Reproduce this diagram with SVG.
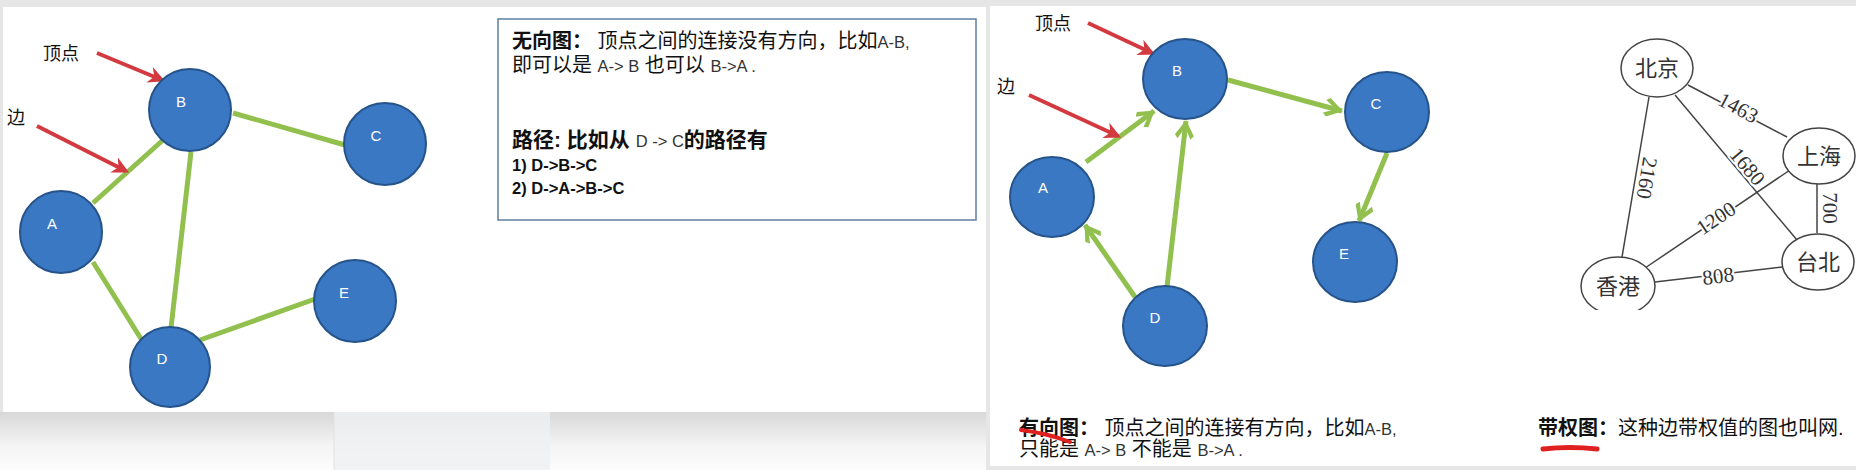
<svg xmlns="http://www.w3.org/2000/svg" width="1856" height="470" viewBox="0 0 1856 470">
<style>
.nd{fill:#3b78c3;stroke:#25538a;stroke-width:2}
.nl{fill:#ffffff;font-family:"Liberation Sans",Arial,sans-serif;font-size:15px;text-anchor:middle}
.ge{stroke:#92c04f;stroke-width:5;fill:none}
.re{stroke:#d23a3f;stroke-width:4;fill:none}
.cj{font-family:"Liberation Sans","Noto Sans CJK SC",sans-serif;fill:#111}
.t19{font-size:20px}
.lat{font-family:"Liberation Sans",Arial,sans-serif;font-size:16.5px;fill:#333}
.b{font-weight:bold}
.wn{fill:#fff;stroke:#444;stroke-width:1.5}
.wl{font-family:"Noto Sans CJK SC",sans-serif;font-size:22px;fill:#333;text-anchor:middle}
.we{stroke:#444;stroke-width:1.5}
.wt{font-family:"Liberation Serif","Times New Roman",serif;font-size:21px;fill:#333;text-anchor:middle;stroke:#fff;stroke-width:4;paint-order:stroke;stroke-linejoin:round}
</style>
<defs>
<marker id="rh" viewBox="0 0 10 10" refX="8" refY="5" markerWidth="4.2" markerHeight="4.2" orient="auto" markerUnits="strokeWidth"><path d="M0,0 L10,5 L0,10 L3,5 z" fill="#d23a3f"/></marker>
<marker id="gh" viewBox="0 0 10 10" refX="9.5" refY="5" markerWidth="3.8" markerHeight="3.8" orient="auto" markerUnits="strokeWidth"><path d="M0,1.6 L2,0 L10,5 L2,10 L0,8.4 L6.2,5 z" fill="#92c04f"/></marker>
<linearGradient id="sh" x1="0" y1="0" x2="0" y2="1"><stop offset="0" stop-color="#d8d8d8"/><stop offset="0.6" stop-color="#f5f5f5"/><stop offset="1" stop-color="#fcfcfc"/></linearGradient>
<clipPath id="wc"><rect x="1560" y="20" width="296" height="290"/></clipPath>
</defs>
<!-- background -->
<rect x="0" y="0" width="1856" height="470" fill="#e6e6e6"/>
<rect x="0" y="412" width="986" height="58" fill="url(#sh)"/>
<rect x="334" y="412" width="216" height="58" fill="#eef0f3" opacity="0.8"/>
<line x1="334" y1="412" x2="334" y2="470" stroke="#e2e2e2"/>
<rect x="3" y="7" width="983" height="405" fill="#ffffff"/>
<rect x="990" y="6" width="866" height="460" fill="#ffffff"/>

<g id="connectors">
<!-- undirected -->
<line class="ge" x1="233" y1="113" x2="345" y2="145"/>
<line class="ge" x1="93" y1="203" x2="163" y2="140"/>
<line class="ge" x1="191" y1="152" x2="171" y2="328"/>
<line class="ge" x1="93" y1="262" x2="143" y2="342"/>
<line class="ge" x1="200" y1="340" x2="315" y2="299"/>
<line class="re" x1="97" y1="53" x2="162" y2="80" marker-end="url(#rh)"/>
<line class="re" x1="37" y1="126" x2="126" y2="171" marker-end="url(#rh)"/>
<!-- directed -->
<line class="ge" x1="1086" y1="162" x2="1154" y2="111" marker-end="url(#gh)"/>
<line class="ge" x1="1167" y1="287" x2="1186" y2="121" marker-end="url(#gh)"/>
<line class="ge" x1="1135" y1="297" x2="1085" y2="225" marker-end="url(#gh)"/>
<line class="ge" x1="1228" y1="80" x2="1342" y2="111" marker-end="url(#gh)"/>
<line class="ge" x1="1387" y1="153" x2="1359" y2="221" marker-end="url(#gh)"/>
<line class="re" x1="1088" y1="23" x2="1152" y2="53" marker-end="url(#rh)"/>
<line class="re" x1="1029" y1="95" x2="1118" y2="136" marker-end="url(#rh)"/>
<!-- weighted -->
<g clip-path="url(#wc)">
<line class="we" x1="1688" y1="85" x2="1787" y2="137"/>
<line class="we" x1="1675" y1="95" x2="1797" y2="240"/>
<line class="we" x1="1649" y1="97" x2="1622" y2="257"/>
<line class="we" x1="1817" y1="182" x2="1817" y2="233"/>
<line class="we" x1="1790" y1="170" x2="1645" y2="268"/>
<line class="we" x1="1655" y1="282" x2="1783" y2="267"/>
<text class="wt" transform="translate(1735,114) rotate(27.7)">1463</text>
<text class="wt" transform="translate(1742,171) rotate(50)">1680</text>
<text class="wt" transform="translate(1640,177) rotate(99.6)">2160</text>
<text class="wt" transform="translate(1823,208) rotate(90)">700</text>
<text class="wt" transform="translate(1720,224) rotate(-34)">1200</text>
<text class="wt" transform="translate(1719,283) rotate(-7)">808</text>
</g>
</g>

<!-- left nodes -->
<g id="u-A"><circle class="nd" cx="61" cy="232" r="41"/><text class="nl" x="52" y="229">A</text></g>
<g id="u-B"><circle class="nd" cx="190" cy="110" r="41"/><text class="nl" x="181" y="107">B</text></g>
<g id="u-C"><circle class="nd" cx="385" cy="144" r="41"/><text class="nl" x="376" y="141">C</text></g>
<g id="u-D"><circle class="nd" cx="170" cy="367" r="40"/><text class="nl" x="162" y="364">D</text></g>
<g id="u-E"><circle class="nd" cx="355" cy="301" r="41"/><text class="nl" x="344" y="298">E</text></g>
<g id="u-label-vertex"><text class="cj" x="43" y="60" font-size="18">顶点</text></g>
<g id="u-label-edge"><text class="cj" x="7" y="124" font-size="18">边</text></g>

<!-- info box -->
<g id="u-info">
<rect x="498" y="19" width="478" height="201" fill="#ffffff" stroke="#5e80a5" stroke-width="1.5"/>
<text class="cj t19" x="512" y="48"><tspan class="b">无向图：</tspan> 顶点之间的连接没有方向，比如<tspan class="lat">A-B,</tspan></text>
<text class="cj t19" x="512" y="72">即可以是 <tspan class="lat">A-&gt; B</tspan> 也可以 <tspan class="lat">B-&gt;A .</tspan></text>
<text class="cj b" x="512" y="147" font-size="21">路径: 比如从 <tspan class="lat" font-weight="normal">D -&gt; C</tspan>的路径有</text>
<text class="cj b" x="512" y="171" font-size="16.5">1) D-&gt;B-&gt;C</text>
<text class="cj b" x="512" y="194" font-size="16.5">2) D-&gt;A-&gt;B-&gt;C</text>
</g>

<!-- right directed nodes -->
<g id="d-A"><ellipse class="nd" cx="1052" cy="197" rx="42" ry="40"/><text class="nl" x="1043" y="193">A</text></g>
<g id="d-B"><ellipse class="nd" cx="1185" cy="79" rx="42" ry="40"/><text class="nl" x="1177" y="76">B</text></g>
<g id="d-C"><ellipse class="nd" cx="1387" cy="112" rx="42" ry="40"/><text class="nl" x="1376" y="109">C</text></g>
<g id="d-D"><ellipse class="nd" cx="1165" cy="326" rx="42" ry="40"/><text class="nl" x="1155" y="323">D</text></g>
<g id="d-E"><ellipse class="nd" cx="1355" cy="262" rx="42" ry="40"/><text class="nl" x="1344" y="259">E</text></g>
<g id="d-label-vertex"><text class="cj" x="1035" y="30" font-size="18">顶点</text></g>
<g id="d-label-edge"><text class="cj" x="997" y="93" font-size="18">边</text></g>

<!-- weighted nodes -->
<g clip-path="url(#wc)">
<g id="w-bj"><ellipse class="wn" cx="1657" cy="68" rx="36" ry="29"/><text class="wl" x="1657" y="76">北京</text></g>
<g id="w-sh"><ellipse class="wn" cx="1819" cy="156" rx="36" ry="28"/><text class="wl" x="1819" y="164">上海</text></g>
<g id="w-tb"><ellipse class="wn" cx="1818" cy="262" rx="36" ry="28"/><text class="wl" x="1818" y="270">台北</text></g>
<g id="w-hk"><ellipse class="wn" cx="1618" cy="286" rx="37" ry="29"/><text class="wl" x="1618" y="294">香港</text></g>
</g>

<!-- captions -->
<g id="cap-directed">
<text class="cj t19" x="1019" y="435"><tspan class="b">有向图：</tspan> 顶点之间的连接有方向，比如<tspan class="lat">A-B,</tspan></text>
<text class="cj t19" x="1019" y="456">只能是 <tspan class="lat">A-&gt; B</tspan> 不能是 <tspan class="lat">B-&gt;A .</tspan></text>
<path d="M1021,430 Q1046,433 1070,442" stroke="#e0201f" stroke-width="4" fill="none" stroke-linecap="round"/>
</g>
<g id="cap-weighted">
<text class="cj t19" x="1538" y="435"><tspan class="b">带权图：</tspan>这种边带权值的图也叫网.</text>
<path d="M1543,449 Q1570,446 1597,449" stroke="#e0201f" stroke-width="5" fill="none" stroke-linecap="round"/>
</g>
</svg>
